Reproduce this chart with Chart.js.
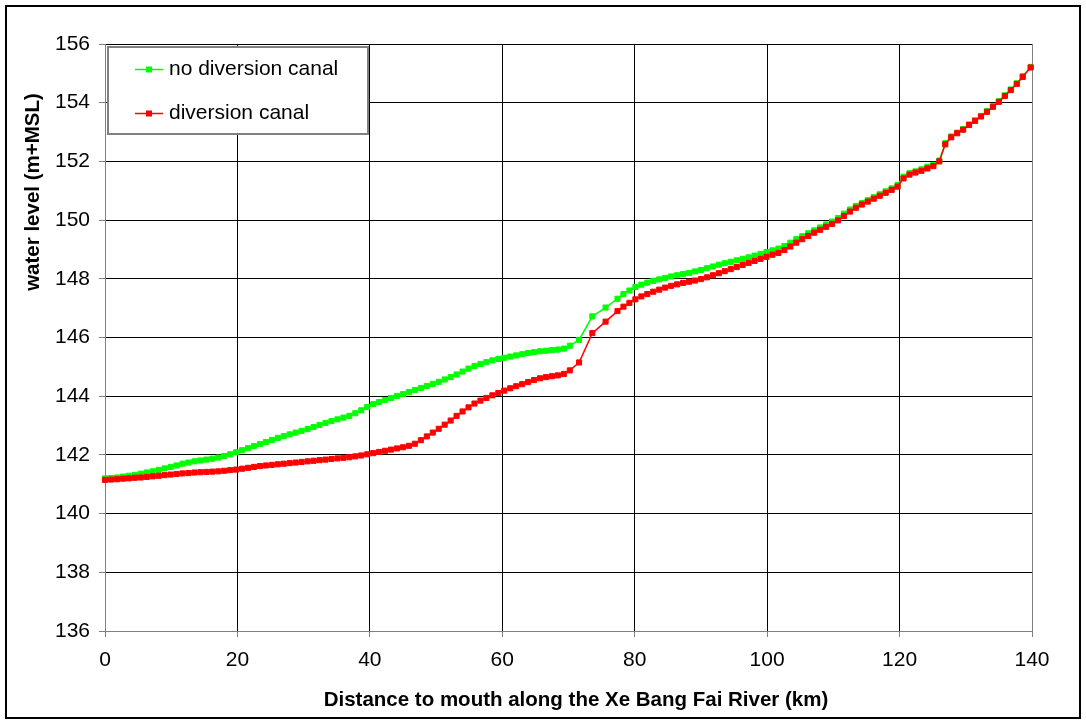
<!DOCTYPE html>
<html>
<head>
<meta charset="utf-8">
<script src="https://cdn.jsdelivr.net/npm/chart.js@4/dist/chart.umd.min.js"></script>
<style>
  html, body { margin: 0; padding: 0; background: #fff; }
  canvas { display: block; }
</style>
</head>
<body>
<canvas id="c" width="1086" height="724"></canvas>
<script>
// ---- data ----
const distanceKm = [
  0,0.9,1.8,2.7,3.6,4.5,5.4,6.3,7.2,8.1,
  9,9.9,10.8,11.7,12.6,13.5,14.4,15.3,16.2,17.1,
  18,18.9,19.8,20.7,21.6,22.5,23.4,24.3,25.2,26.1,
  27,27.9,28.8,29.7,30.6,31.5,32.4,33.3,34.2,35.1,
  36,36.9,37.8,38.7,39.6,40.5,41.4,42.3,43.2,44.1,
  45,45.9,46.8,47.7,48.6,49.5,50.4,51.3,52.2,53.1,
  54,54.9,55.8,56.7,57.6,58.5,59.4,60.3,61.2,62.1,
  63,63.9,64.8,65.7,66.6,67.5,68.4,69.3,70.2,71.6,
  73.6,75.6,77.4,
  78.3,79.2,80.1,81,81.9,82.8,83.7,84.6,85.5,86.4,
  87.3,88.2,89.1,90,90.9,91.8,92.7,93.6,94.5,95.4,
  96.3,97.2,98.1,99,99.9,100.8,101.7,102.6,103.5,104.4,
  105.3,106.2,107.1,108,108.9,109.8,110.7,111.6,112.5,113.4,
  114.3,115.2,116.1,117,117.9,118.8,119.7,120.6,121.5,122.4,
  123.3,124.2,125.1,126,
  126.9,127.8,128.7,129.6,130.5,131.4,132.3,133.2,134.1,135,135.9,136.8,137.7,138.6,
  139.8
];
const levelNoCanal = [
  141.20,141.21,141.23,141.26,141.29,141.32,141.36,141.40,141.44,141.49,
  141.54,141.59,141.64,141.70,141.74,141.78,141.81,141.84,141.87,141.91,
  141.96,142.02,142.09,142.16,142.23,142.30,142.37,142.44,142.51,142.58,
  142.64,142.70,142.76,142.82,142.88,142.95,143.02,143.09,143.15,143.21,
  143.27,143.33,143.42,143.52,143.63,143.73,143.80,143.87,143.94,144.01,
  144.07,144.14,144.21,144.28,144.35,144.42,144.49,144.57,144.65,144.74,
  144.84,144.94,145.03,145.10,145.16,145.22,145.27,145.31,145.35,145.39,
  145.43,145.47,145.50,145.53,145.55,145.57,145.59,145.62,145.72,145.92,
  146.72,147.02,147.32,
  147.48,147.60,147.72,147.80,147.87,147.93,147.98,148.03,148.08,148.12,
  148.16,148.20,148.25,148.30,148.36,148.42,148.48,148.53,148.58,148.63,
  148.68,148.73,148.79,148.85,148.91,148.97,149.03,149.12,149.23,149.35,
  149.45,149.55,149.65,149.75,149.85,149.95,150.07,150.22,150.36,150.48,
  150.58,150.68,150.78,150.88,150.98,151.08,151.20,151.48,151.60,151.66,
  151.73,151.82,151.88,152.03,
  152.62,152.85,152.98,153.10,153.26,153.40,153.55,153.71,153.88,154.05,154.25,154.45,154.66,154.90,
  155.22
];
const levelCanal = [
  141.15,141.16,141.17,141.19,141.20,141.22,141.23,141.25,141.27,141.29,
  141.31,141.33,141.35,141.37,141.38,141.40,141.41,141.42,141.43,141.44,
  141.46,141.48,141.50,141.53,141.56,141.59,141.62,141.64,141.66,141.68,
  141.70,141.72,141.74,141.76,141.78,141.80,141.82,141.84,141.86,141.88,
  141.90,141.92,141.95,141.98,142.02,142.06,142.10,142.14,142.18,142.22,
  142.26,142.31,142.38,142.50,142.63,142.76,142.89,143.03,143.17,143.33,
  143.48,143.62,143.75,143.85,143.94,144.03,144.11,144.19,144.27,144.34,
  144.41,144.48,144.55,144.61,144.65,144.68,144.71,144.76,144.88,145.15,
  146.15,146.54,146.90,
  147.05,147.18,147.30,147.40,147.48,147.56,147.63,147.70,147.76,147.81,
  147.86,147.90,147.94,147.99,148.05,148.12,148.19,148.26,148.33,148.40,
  148.47,148.54,148.61,148.68,148.75,148.82,148.88,148.98,149.10,149.23,
  149.35,149.46,149.57,149.67,149.77,149.87,149.99,150.14,150.29,150.42,
  150.53,150.63,150.73,150.83,150.93,151.03,151.14,151.42,151.55,151.62,
  151.68,151.76,151.84,152.00,
  152.58,152.82,152.96,153.08,153.24,153.38,153.53,153.69,153.86,154.03,154.23,154.43,154.64,154.88,
  155.20
];
const seriesLabels = ['no diversion canal', 'diversion canal'];
const xTitle = 'Distance to mouth along the Xe Bang Fai River (km)';
const yTitle = 'water level (m+MSL)';
const xRange = [0, 140, 20];
const yRange = [136, 156, 2];

// ---- chart ----
const FONT = '"Liberation Sans", Arial, Helvetica, sans-serif';
const toPoints = ys => distanceKm.map((x, i) => ({x: x, y: ys[i]}));

const decor = {
  id: 'decor',
  afterDraw(chart) {
    const ctx = chart.ctx;
    ctx.save();
    // outer frame
    ctx.strokeStyle = '#000';
    ctx.lineWidth = 2;
    ctx.strokeRect(6, 6, 1074, 712);

    // legend box
    ctx.fillStyle = '#fff';
    ctx.fillRect(107, 46, 262, 89);
    ctx.strokeStyle = '#808080';
    ctx.lineWidth = 2;
    ctx.strokeRect(108, 47, 260, 87);
    const rowsY = [69, 113];
    chart.data.datasets.forEach((ds, i) => {
      const y = rowsY[i];
      ctx.strokeStyle = ds.borderColor;
      ctx.lineWidth = 1.5;
      ctx.beginPath();
      ctx.moveTo(135, y + 0.5);
      ctx.lineTo(163, y + 0.5);
      ctx.stroke();
      ctx.fillStyle = ds.borderColor;
      ctx.fillRect(146, y - 2.5, 6, 6);
      ctx.fillStyle = '#000';
      ctx.font = '21px ' + FONT;
      ctx.textAlign = 'left';
      ctx.textBaseline = 'middle';
      ctx.fillText(ds.label, 169, y);
    });

    // axis titles
    ctx.fillStyle = '#000';
    ctx.font = 'bold 20.5px ' + FONT;
    ctx.textAlign = 'center';
    ctx.textBaseline = 'middle';
    ctx.fillText(xTitle, 576, 700);
    ctx.translate(33, 192);
    ctx.rotate(-Math.PI / 2);
    ctx.fillText(yTitle, 0, 0);
    ctx.restore();
  }
};

new Chart(document.getElementById('c'), {
  type: 'line',
  data: {
    datasets: [
      {
        label: seriesLabels[0],
        data: toPoints(levelNoCanal),
        borderColor: '#00FF00',
        backgroundColor: '#00FF00',
        order: 2
      },
      {
        label: seriesLabels[1],
        data: toPoints(levelCanal),
        borderColor: '#FF0000',
        backgroundColor: '#FF0000',
        order: 1
      }
    ]
  },
  options: {
    responsive: false,
    animation: false,
    devicePixelRatio: 1,
    layout: { padding: { top: 44, right: 54, bottom: 0, left: 0 } },
    elements: {
      line: { borderWidth: 1.5, tension: 0, fill: false },
      point: { pointStyle: 'rect', radius: 3.6, borderWidth: 1, hoverRadius: 3.6 }
    },
    datasets: { line: { clip: false } },
    plugins: {
      legend: { display: false },
      tooltip: { enabled: false },
      title: { display: false }
    },
    scales: {
      x: {
        type: 'linear',
        min: xRange[0], max: xRange[1],
        ticks: { stepSize: xRange[2], font: { family: FONT, size: 21 }, color: '#000', padding: 11, maxRotation: 0 },
        grid: {
          color: c => (c.tick && (c.tick.value === xRange[0] || c.tick.value === xRange[1])) ? '#808080' : '#000',
          tickColor: '#808080', tickLength: 6, lineWidth: 1
        },
        border: { color: '#808080', width: 1 },
        afterFit: s => { s.height = 93; }
      },
      y: {
        min: yRange[0], max: yRange[1],
        ticks: { stepSize: yRange[2], font: { family: FONT, size: 21 }, color: '#000', padding: 9 },
        grid: {
          color: c => (c.tick && c.tick.value === yRange[0]) ? '#808080' : '#000',
          tickColor: '#808080', tickLength: 6, lineWidth: 1
        },
        border: { color: '#808080', width: 1 },
        afterFit: s => { s.width = 105; }
      }
    }
  },
  plugins: [decor]
});
</script>
</body>
</html>
